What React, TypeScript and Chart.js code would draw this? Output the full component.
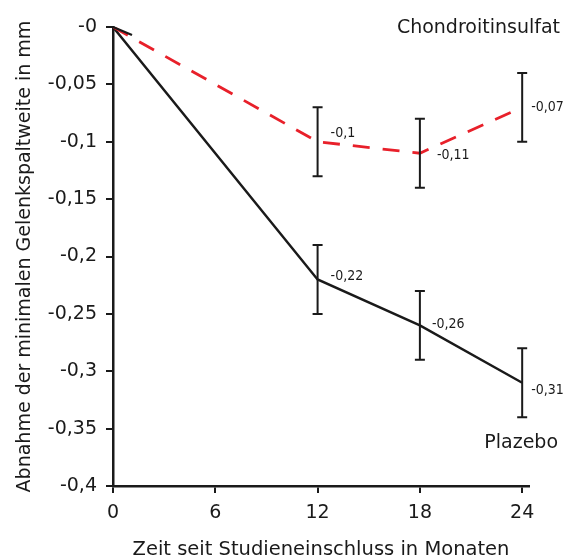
import React, { useEffect, useRef } from "react";
import { Chart, registerables } from "chart.js";

Chart.register(...registerables);

const months = [0, 12, 18, 24];
const chondroitin = [0, -0.1, -0.11, -0.07];
const chondroitinErr = [0, 0.03, 0.03, 0.03];
const placebo = [0, -0.22, -0.26, -0.31];
const placeboErr = [0, 0.03, 0.03, 0.03];
const chondroitinLabels = ["", "-0,1", "-0,11", "-0,07"];
const placeboLabels = ["", "-0,22", "-0,26", "-0,31"];
const xTicks = [0, 6, 12, 18, 24];

const FONT = "'DejaVu Sans', sans-serif";
const NARROW = "'DejaVu Sans Condensed', 'Liberation Sans Narrow', sans-serif";

// label offsets relative to each point (dx, dy)
const chondroitinLabelOffsets = [[0, 0], [13, -8], [17, 2], [9, 0]];
const placeboLabelOffsets = [[0, 0], [13, -3], [12, -1], [9, 8]];

const overlayPlugin = {
  id: "overlay",
  afterDatasetsDraw(chart: any) {
    const { ctx, scales } = chart;
    const xs = scales.x;
    const ys = scales.y;
    ctx.save();
    // black start of chondroitin line
    const x0 = xs.getPixelForValue(months[0]);
    const y0 = ys.getPixelForValue(chondroitin[0]);
    const x1 = xs.getPixelForValue(months[1]);
    const y1 = ys.getPixelForValue(chondroitin[1]);
    const f = 19 / (x1 - x0);
    ctx.strokeStyle = "#1a1a1a";
    ctx.lineWidth = 2.4;
    ctx.beginPath();
    ctx.moveTo(x0, y0);
    ctx.lineTo(x0 + (x1 - x0) * f, y0 + (y1 - y0) * f * 0.75);
    ctx.stroke();

    const drawErr = (vals: number[], errs: number[]) => {
      vals.forEach((v, i) => {
        if (!errs[i]) return;
        const x = xs.getPixelForValue(months[i]);
        const yt = ys.getPixelForValue(v + errs[i]);
        const yb = ys.getPixelForValue(v - errs[i]);
        ctx.strokeStyle = "#1a1a1a";
        ctx.lineWidth = 2;
        ctx.beginPath();
        ctx.moveTo(x, yt);
        ctx.lineTo(x, yb);
        ctx.moveTo(x - 5, yt);
        ctx.lineTo(x + 5, yt);
        ctx.moveTo(x - 5, yb);
        ctx.lineTo(x + 5, yb);
        ctx.stroke();
      });
    };
    drawErr(chondroitin, chondroitinErr);
    drawErr(placebo, placeboErr);

    ctx.fillStyle = "#1a1a1a";
    ctx.font = `14px ${NARROW}`;
    ctx.textAlign = "left";
    ctx.textBaseline = "middle";
    const drawLabels = (vals: number[], labels: string[], offs: number[][]) => {
      vals.forEach((v, i) => {
        if (!labels[i]) return;
        const x = xs.getPixelForValue(months[i]);
        const y = ys.getPixelForValue(v);
        ctx.fillText(labels[i], x + offs[i][0], y + offs[i][1]);
      });
    };
    drawLabels(chondroitin, chondroitinLabels, chondroitinLabelOffsets);
    drawLabels(placebo, placeboLabels, placeboLabelOffsets);

    ctx.font = `19px ${FONT}`;
    ctx.textAlign = "right";
    ctx.fillText("Chondroitinsulfat", 560, 28);
    ctx.fillText("Plazebo", 558, 443);
    ctx.restore();
  },
};

export default function App() {
  const ref = useRef<HTMLCanvasElement>(null);
  useEffect(() => {
    document.body.style.margin = "0";
    const chart = new Chart(ref.current!, {
      type: "line",
      data: {
        datasets: [
          {
            label: "Chondroitinsulfat",
            data: months.map((m, i) => ({ x: m, y: chondroitin[i] })),
            borderColor: "#e8202a",
            borderWidth: 2.8,
            borderDash: [17, 13],
            pointRadius: 0,
            tension: 0,
          },
          {
            label: "Plazebo",
            data: months.map((m, i) => ({ x: m, y: placebo[i] })),
            borderColor: "#1a1a1a",
            borderWidth: 2.4,
            pointRadius: 0,
            tension: 0,
          },
        ],
      },
      options: {
        animation: false,
        responsive: false,
        layout: { padding: { top: 27, right: 34, left: 0, bottom: 0 } },
        plugins: { legend: { display: false }, tooltip: { enabled: false } },
        scales: {
          x: {
            type: "linear",
            min: 0,
            max: 24.4,
            afterBuildTicks: (axis: any) => {
              axis.ticks = xTicks.map((v) => ({ value: v }));
            },
            afterFit: (axis: any) => {
              axis.height = 74;
            },
            border: { display: true, color: "#1a1a1a", width: 2.5 },
            grid: {
              display: true,
              drawOnChartArea: false,
              drawTicks: true,
              tickLength: 7,
              color: "#1a1a1a",
              lineWidth: 2,
            },
            ticks: {
              color: "#1a1a1a",
              font: { family: FONT, size: 19 },
              padding: 9,
              maxRotation: 0,
              callback: (v: any) => String(v),
            },
            title: {
              display: true,
              text: "Zeit seit Studieneinschluss in Monaten",
              color: "#1a1a1a",
              font: { family: FONT, size: 19.5 },
              padding: { top: 0, bottom: -2 },
            },
          },
          y: {
            type: "linear",
            min: -0.4,
            max: 0,
            afterFit: (axis: any) => {
              axis.width = 113;
            },
            border: { display: true, color: "#1a1a1a", width: 2.5 },
            grid: {
              display: true,
              drawOnChartArea: false,
              drawTicks: true,
              tickLength: 7,
              color: "#1a1a1a",
              lineWidth: 2,
            },
            ticks: {
              stepSize: 0.05,
              color: "#1a1a1a",
              font: { family: FONT, size: 19 },
              padding: 9,
              callback: (v: any) => {
                const n = Math.round(Number(v) * 100) / 100;
                if (n === 0) return "-0";
                return String(n).replace(".", ",");
              },
            },
            title: {
              display: true,
              text: "Abnahme der minimalen Gelenkspaltweite in mm",
              color: "#1a1a1a",
              font: { family: FONT, size: 19 },
              padding: { top: 14, bottom: 0 },
            },
          },
        },
      },
      plugins: [overlayPlugin],
    } as any);
    return () => chart.destroy();
  }, []);
  return <canvas ref={ref} width={563} height={560} style={{ display: "block" }} />;
}
